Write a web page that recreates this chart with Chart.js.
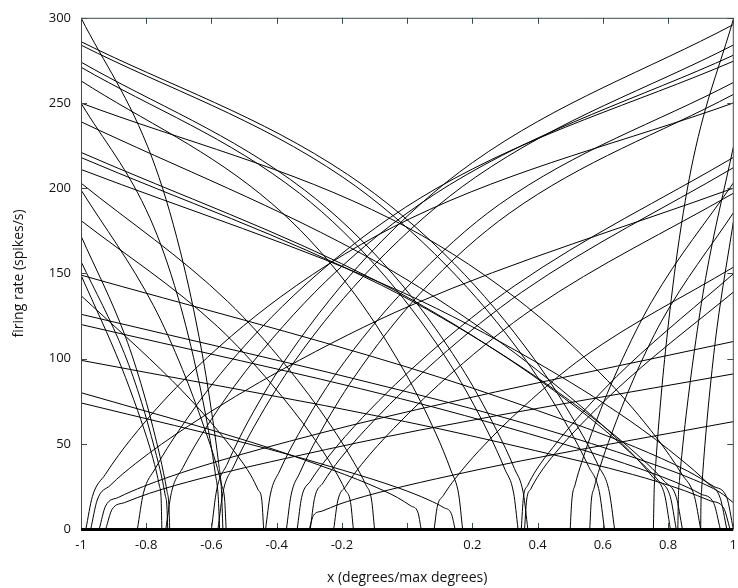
<!DOCTYPE html>
<html>
<head>
<meta charset="utf-8">
<script src="https://cdn.jsdelivr.net/npm/chart.js@4.4.1/dist/chart.umd.min.js"></script>
<style>
  html, body { margin: 0; padding: 0; background: #fff; overflow: hidden; }
  #wrap { width: 745px; height: 588px; }
</style>
</head>
<body>
<div id="wrap"><canvas id="grafico"></canvas></div>
<script>
// tick values
var xTickValues = [-1, -0.8, -0.6, -0.4, -0.2, 0, 0.2, 0.4, 0.6, 0.8, 1];
var yTickValues = [0, 50, 100, 150, 200, 250, 300];

// tuning curves falling towards the right: [x, rate]
var fallingCurves = [
    [[-1,300],[-0.7825,218],[-0.6955,163],[-0.63,104.5],[-0.5955,63.5],[-0.578,38.5],[-0.5694,23],[-0.565,0]],
    [[-1,250],[-0.7875,182],[-0.7025,136],[-0.639,87],[-0.6048,53],[-0.5878,32],[-0.5793,19],[-0.575,0]],
    [[-1,199],[-0.7775,131],[-0.6885,93.5],[-0.622,59.5],[-0.586,38.5],[-0.5684,25.5],[-0.5595,17],[-0.555,0]],
    [[-1,172],[-0.864,113],[-0.8096,81],[-0.7688,51.5],[-0.747,33],[-0.7362,22],[-0.7307,14.5],[-0.728,0]],
    [[-1,157],[-0.867,103],[-0.8138,74],[-0.774,47],[-0.7526,30.5],[-0.742,20],[-0.7367,13.5],[-0.734,0]],
    [[-1,149],[-0.876,95],[-0.8264,69.5],[-0.7892,48],[-0.7694,34],[-0.7594,25],[-0.7545,18.5],[-0.752,0]],
    [[-1,137],[-0.72,87],[-0.608,64],[-0.524,44],[-0.4792,31.5],[-0.4568,23],[-0.4456,17],[-0.44,0]],
    [[-1,181],[-0.5825,119],[-0.4155,85],[-0.2903,54.5],[-0.2235,35],[-0.19,23],[-0.1734,15.5],[-0.165,0]],
    [[-1,203],[-0.55,133.5],[-0.37,95.5],[-0.235,61],[-0.163,39],[-0.127,26],[-0.109,17],[-0.1,0]],
    [[-1,80],[-0.4785,51],[-0.27,37.5],[-0.1135,26],[-0.03,18.5],[0.0117,13.5],[0.0326,10],[0.043,0]],
    [[-1,74],[-0.4265,47],[-0.197,34.5],[-0.025,24],[0.0667,17],[0.1126,12.5],[0.1355,9],[0.147,0]],
    [[-1,263],[-0.415,191],[-0.181,143],[-0.0055,91.5],[0.0881,56],[0.1349,34],[0.1583,20],[0.17,0]],
    [[-1,271],[-0.33,197],[-0.062,147],[0.139,94.5],[0.2462,57.5],[0.2998,35],[0.3266,21],[0.34,0]],
    [[-1,274],[-0.315,199],[-0.041,149],[0.1645,95.5],[0.2741,58],[0.3289,35.5],[0.3563,21],[0.37,0]],
    [[-1,284],[-0.1975,206.5],[0.1235,154],[0.3643,99],[0.4927,60],[0.5569,36.5],[0.589,22],[0.605,0]],
    [[-1,286],[-0.182,208],[0.1452,155.5],[0.3906,99.5],[0.5215,60.5],[0.5869,37],[0.6196,22],[0.636,0]],
    [[-1,239],[-0.0965,157],[0.2649,112.5],[0.536,71.5],[0.6805,46],[0.7528,30.5],[0.7889,20.5],[0.807,0]],
    [[-1,221],[-0.0875,145],[0.2775,104],[0.5513,66.5],[0.6973,42.5],[0.7703,28.5],[0.8068,19],[0.825,0]],
    [[-1,218],[-0.078,143],[0.2908,102.5],[0.5674,65.5],[0.7149,42],[0.7887,28],[0.8256,18.5],[0.844,0]],
    [[-1,99],[-0.005,63],[0.393,46],[0.6915,32],[0.8507,22.5],[0.9303,16.5],[0.9701,12.5],[0.99,0]],
    [[-1,250],[-0.05,182],[0.33,136],[0.615,87],[0.767,53],[0.843,32],[0.881,19],[0.9,0]],
    [[-1,211],[-0.01,138.5],[0.386,99],[0.683,63.5],[0.8414,40.5],[0.9206,27],[0.9602,18],[0.98,0]],
    [[-1,149],[0,95],[0.4,69.5],[0.7,48],[0.86,34],[0.94,25],[0.98,18.5],[1,0]],
    [[-1,126],[0.01,80],[0.414,59],[0.717,40.5],[0.8786,29],[0.9594,21.5],[1,15.5]],
    [[-1,120],[-0.02,76.5],[0.372,56],[0.666,38.5],[0.8228,27.5],[0.9012,20.5],[0.9404,15],[0.96,0]]
];

// tuning curves rising towards the right
var risingCurves = [
    [[0.755,0],[0.7575,23],[0.7624,38.5],[0.7722,63.5],[0.7918,104],[0.8285,162.5],[0.8775,217.5],[1,299]],
    [[-0.6,0],[-0.584,23],[-0.552,38],[-0.488,63],[-0.36,103],[-0.12,160.5],[0.2,215],[1,296]],
    [[-0.58,0],[-0.5642,22],[-0.5326,36.5],[-0.4694,60],[-0.343,99],[-0.106,154],[0.21,206.5],[1,284]],
    [[-0.74,0],[-0.7226,21.5],[-0.6878,36],[-0.6182,59],[-0.479,96.5],[-0.218,151],[0.13,202],[1,278]],
    [[-0.827,0],[-0.8087,21],[-0.7722,35.5],[-0.6991,58],[-0.553,95.5],[-0.2789,149],[0.0865,199.5],[1,274.5]],
    [[-0.434,0],[-0.4197,20],[-0.391,34],[-0.3336,55.5],[-0.2189,91],[0,142],[0.283,190.5],[1,262]],
    [[-0.37,0],[-0.3563,19.5],[-0.3289,33],[-0.2741,54],[-0.1645,88.5],[0.041,138.5],[0.315,185.5],[1,255]],
    [[-0.985,0],[-0.9652,19],[-0.9255,32],[-0.846,53],[-0.6873,87],[-0.3895,136],[0.0075,182],[1,250]],
    [[0.83,0],[0.8317,19],[0.8351,28.5],[0.8419,43],[0.8555,67],[0.881,105],[0.915,147],[1,224]],
    [[-0.337,0],[-0.3236,18.5],[-0.2969,28],[-0.2434,42],[-0.1364,65.5],[0.0641,102.5],[0.3315,143],[1,218]],
    [[-0.297,0],[-0.284,18],[-0.2581,27],[-0.2062,41],[-0.1025,63.5],[0.0921,99.5],[0.3515,139],[1,212]],
    [[0.5,0],[0.505,17],[0.515,26],[0.535,39],[0.575,61],[0.65,95.5],[0.75,133.5],[1,203]],
    [[-0.97,0],[-0.9503,17],[-0.9109,25.5],[-0.8321,38.5],[-0.6745,60],[-0.379,94],[0.015,131.5],[1,200]],
    [[-0.225,0],[-0.2128,16.5],[-0.1883,25],[-0.1393,38],[-0.0413,59],[0.1425,92.5],[0.3875,129.5],[1,197]],
    [[0.56,0],[0.5644,16],[0.5732,24],[0.5908,36],[0.626,55.5],[0.692,87],[0.78,122],[1,185.5]],
    [[0.9,0],[0.901,15.5],[0.903,23],[0.907,34.5],[0.915,54],[0.93,84.5],[0.95,118],[1,180]],
    [[0.083,0],[0.0922,13],[0.1105,19.5],[0.1472,29.5],[0.2206,46],[0.3581,72],[0.5415,101],[1,153.6]],
    [[0.35,0],[0.3565,18.5],[0.3695,25.5],[0.3955,34.5],[0.4475,48],[0.545,70],[0.675,95.5],[1,149.7]],
    [[0.36,0],[0.3664,17],[0.3792,23.5],[0.4048,32],[0.456,45],[0.552,65],[0.68,88.5],[1,139]],
    [[-0.944,0],[-0.9246,13.5],[-0.8857,18.5],[-0.8079,25],[-0.6524,35.5],[-0.3608,51.5],[0.028,70],[1,110]],
    [[-0.924,0],[-0.9048,11.5],[-0.8663,15.5],[-0.7893,21],[-0.6354,29.5],[-0.3468,42.5],[0.038,58],[1,91]],
    [[-0.3,0],[-0.287,8],[-0.261,10.5],[-0.209,14.5],[-0.105,20.5],[0.09,29.5],[0.35,40],[1,63]]
];

var frameColor = '#3d4b4b';
var fonte = { family: "'Open Sans', 'DejaVu Sans', sans-serif", size: 13 };

// gnuplot-like frame: inward ticks on all sides, heavy baseline
var moldura = {
    id: 'moldura',
    afterDatasetsDraw: function (chart) {
        var c = chart.ctx, a = chart.chartArea;
        var sx = chart.scales.x, sy = chart.scales.y;
        var tl = 6;
        c.save();
        c.strokeStyle = frameColor;
        c.lineWidth = 1;
        c.beginPath();
        c.moveTo(a.left + 0.5, a.bottom);
        c.lineTo(a.left + 0.5, a.top + 0.5);
        c.lineTo(a.right, a.top + 0.5);
        c.lineTo(a.right, a.bottom);
        xTickValues.forEach(function (v) {
            var px = Math.round(sx.getPixelForValue(v)) + 0.5;
            c.moveTo(px, a.top);
            c.lineTo(px, a.top + tl);
            c.moveTo(px, a.bottom);
            c.lineTo(px, a.bottom - tl);
        });
        yTickValues.forEach(function (v) {
            var py = Math.round(sy.getPixelForValue(v)) + 0.5;
            c.moveTo(a.left, py);
            c.lineTo(a.left + tl, py);
            c.moveTo(a.right, py);
            c.lineTo(a.right - tl, py);
        });
        c.stroke();
        c.strokeStyle = '#000';
        c.lineWidth = 3;
        c.beginPath();
        c.moveTo(a.left, a.bottom + 0.5);
        c.lineTo(a.right, a.bottom + 0.5);
        c.stroke();
        c.restore();
    }
};

function montaDatasets(lista) {
    return lista.map(function (curva) {
        return {
            data: curva.map(function (p) { return { x: p[0], y: p[1] }; }),
            borderColor: '#000',
            borderWidth: 1,
            pointRadius: 0,
            fill: false,
            cubicInterpolationMode: 'monotone'
        };
    });
}

var ctx = document.getElementById('grafico').getContext('2d');
new Chart(ctx, {
    type: 'line',
    data: { datasets: montaDatasets(fallingCurves).concat(montaDatasets(risingCurves)) },
    options: {
        responsive: true,
        maintainAspectRatio: false,
        animation: false,
        layout: { padding: { top: 12, right: 6, left: 0, bottom: 0 } },
        plugins: { legend: { display: false }, tooltip: { enabled: false } },
        scales: {
            x: {
                type: 'linear',
                min: -1,
                max: 1,
                afterBuildTicks: function (s) { s.ticks = xTickValues.map(function (v) { return { value: v }; }); },
                afterFit: function (s) { s.height = 59; },
                grid: { display: false, drawTicks: false },
                border: { display: false },
                ticks: {
                    color: '#111',
                    font: fonte,
                    padding: 8,
                    maxRotation: 0,
                    autoSkip: false,
                    callback: function (v) { return Math.abs(v) < 1e-9 ? '' : String(Math.round(v * 10) / 10); }
                },
                title: { display: true, text: 'x (degrees/max degrees)', color: '#111', font: { family: fonte.family, size: 14 }, padding: { top: 0, bottom: 2 } }
            },
            y: {
                min: 0,
                max: 300,
                afterBuildTicks: function (s) { s.ticks = yTickValues.map(function (v) { return { value: v }; }); },
                afterFit: function (s) { s.width = 81; },
                grid: { display: false, drawTicks: false },
                border: { display: false },
                ticks: { color: '#111', font: fonte, padding: 10 },
                title: { display: true, text: 'firing rate (spikes/s)', color: '#111', font: { family: fonte.family, size: 14 }, padding: { top: 11, bottom: 0 } }
            }
        }
    },
    plugins: [moldura]
});
</script>
</body>
</html>
